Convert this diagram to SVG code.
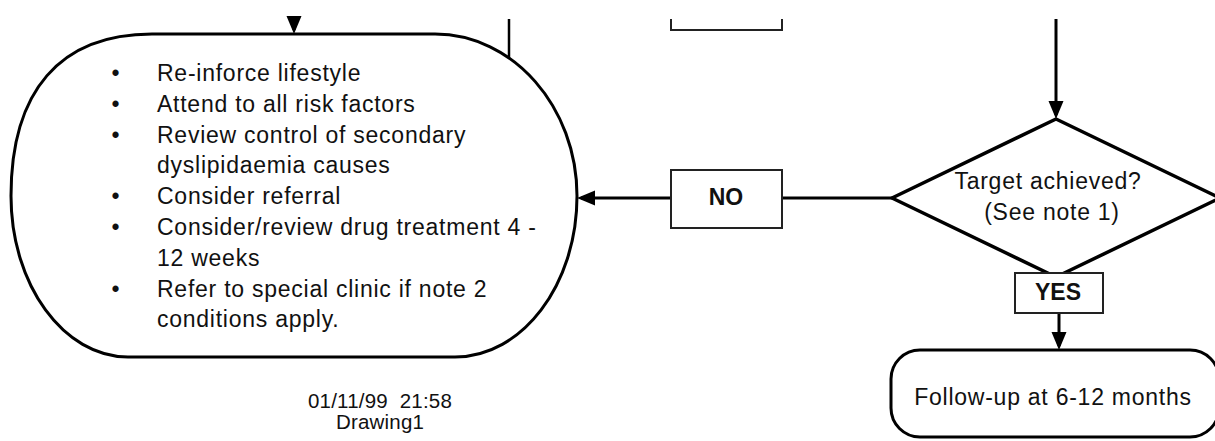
<svg xmlns="http://www.w3.org/2000/svg" width="1215" height="441" viewBox="0 0 1215 441">
<style>
  .t { font-family: "Liberation Sans", Arial, sans-serif; font-size: 23px; letter-spacing: 0.75px; fill: #111; }
  .b { font-weight: bold; letter-spacing: 0px; }
  .s { font-size: 20.5px; letter-spacing: 0.2px; white-space: pre; }
  .m { text-anchor: middle; }
  .shape { fill: #fff; stroke: #000; stroke-width: 3; stroke-linejoin: round; }
  .box { fill: #fff; stroke: #222; stroke-width: 2; }
  .conn { fill: none; stroke: #000; stroke-width: 3; }
</style>
<defs>
  <marker id="arrow" markerUnits="userSpaceOnUse" markerWidth="20" markerHeight="16" refX="14" refY="8" orient="auto">
    <path d="M0,0.5 L18,8 L0,15.5 Z" fill="#000"/>
  </marker>
</defs>
<rect width="1215" height="441" fill="#fff"/>

<g id="connectors">
  <line class="conn" x1="294" y1="19" x2="294" y2="30" marker-end="url(#arrow)"/>
  <line class="conn" x1="509" y1="19" x2="509" y2="59" style="stroke-width:2.5"/>
  <line class="conn" x1="1056" y1="19" x2="1056" y2="115" marker-end="url(#arrow)"/>
  <line class="conn" x1="892" y1="198" x2="782" y2="198"/>
  <line class="conn" x1="671" y1="198" x2="581" y2="198" marker-end="url(#arrow)"/>
  <line class="conn" x1="1059" y1="313" x2="1059" y2="346" marker-end="url(#arrow)"/>
</g>

<g id="node-actions">
  <path class="shape" d="M152,34 H435 C513,34 577,107 577,196 C577,285 522,357 455,357 H128 C64,357 11,285 11,196 C11,91 60,34 152,34 Z"/>
  <text class="t m" x="116" y="81">•</text>
  <text class="t m" x="116" y="111.8">•</text>
  <text class="t m" x="116" y="142.6">•</text>
  <text class="t m" x="116" y="204.2">•</text>
  <text class="t m" x="116" y="235">•</text>
  <text class="t m" x="116" y="296.6">•</text>
  <text class="t" x="157" y="81">Re-inforce lifestyle</text>
  <text class="t" x="157" y="111.8">Attend to all risk factors</text>
  <text class="t" x="157" y="142.6">Review control of secondary</text>
  <text class="t" x="157" y="173.4">dyslipidaemia causes</text>
  <text class="t" x="157" y="204.2">Consider referral</text>
  <text class="t" x="157" y="235">Consider/review drug treatment 4 -</text>
  <text class="t" x="157" y="265.8">12 weeks</text>
  <text class="t" x="157" y="296.6">Refer to special clinic if note 2</text>
  <text class="t" x="157" y="327.4">conditions apply.</text>
</g>

<g id="node-top-box">
  <path class="box" d="M671,19 V30 H782 V19" fill="none"/>
</g>

<g id="node-no">
  <rect class="box" x="671" y="170" width="111" height="58"/>
  <text class="t b m" x="726" y="205">NO</text>
</g>

<g id="node-decision">
  <polygon class="shape" points="1056,119 1220,198 1056,277 892,198" style="stroke-width:3.5"/>
  <text class="t m" x="1048" y="189">Target achieved?</text>
  <text class="t m" x="1052" y="220">(See note 1)</text>
</g>

<g id="node-yes">
  <rect class="box" x="1015" y="273" width="88" height="40"/>
  <text class="t b m" x="1058" y="299.5">YES</text>
</g>

<g id="node-followup">
  <rect class="shape" x="891" y="350" width="328" height="87" rx="29" ry="29"/>
  <text class="t m" x="1053" y="405">Follow-up at 6-12 months</text>
</g>

<g id="footer">
  <text class="t s m" x="380" y="407.5">01/11/99  21:58</text>
  <text class="t s m" x="380" y="429">Drawing1</text>
</g>
</svg>
